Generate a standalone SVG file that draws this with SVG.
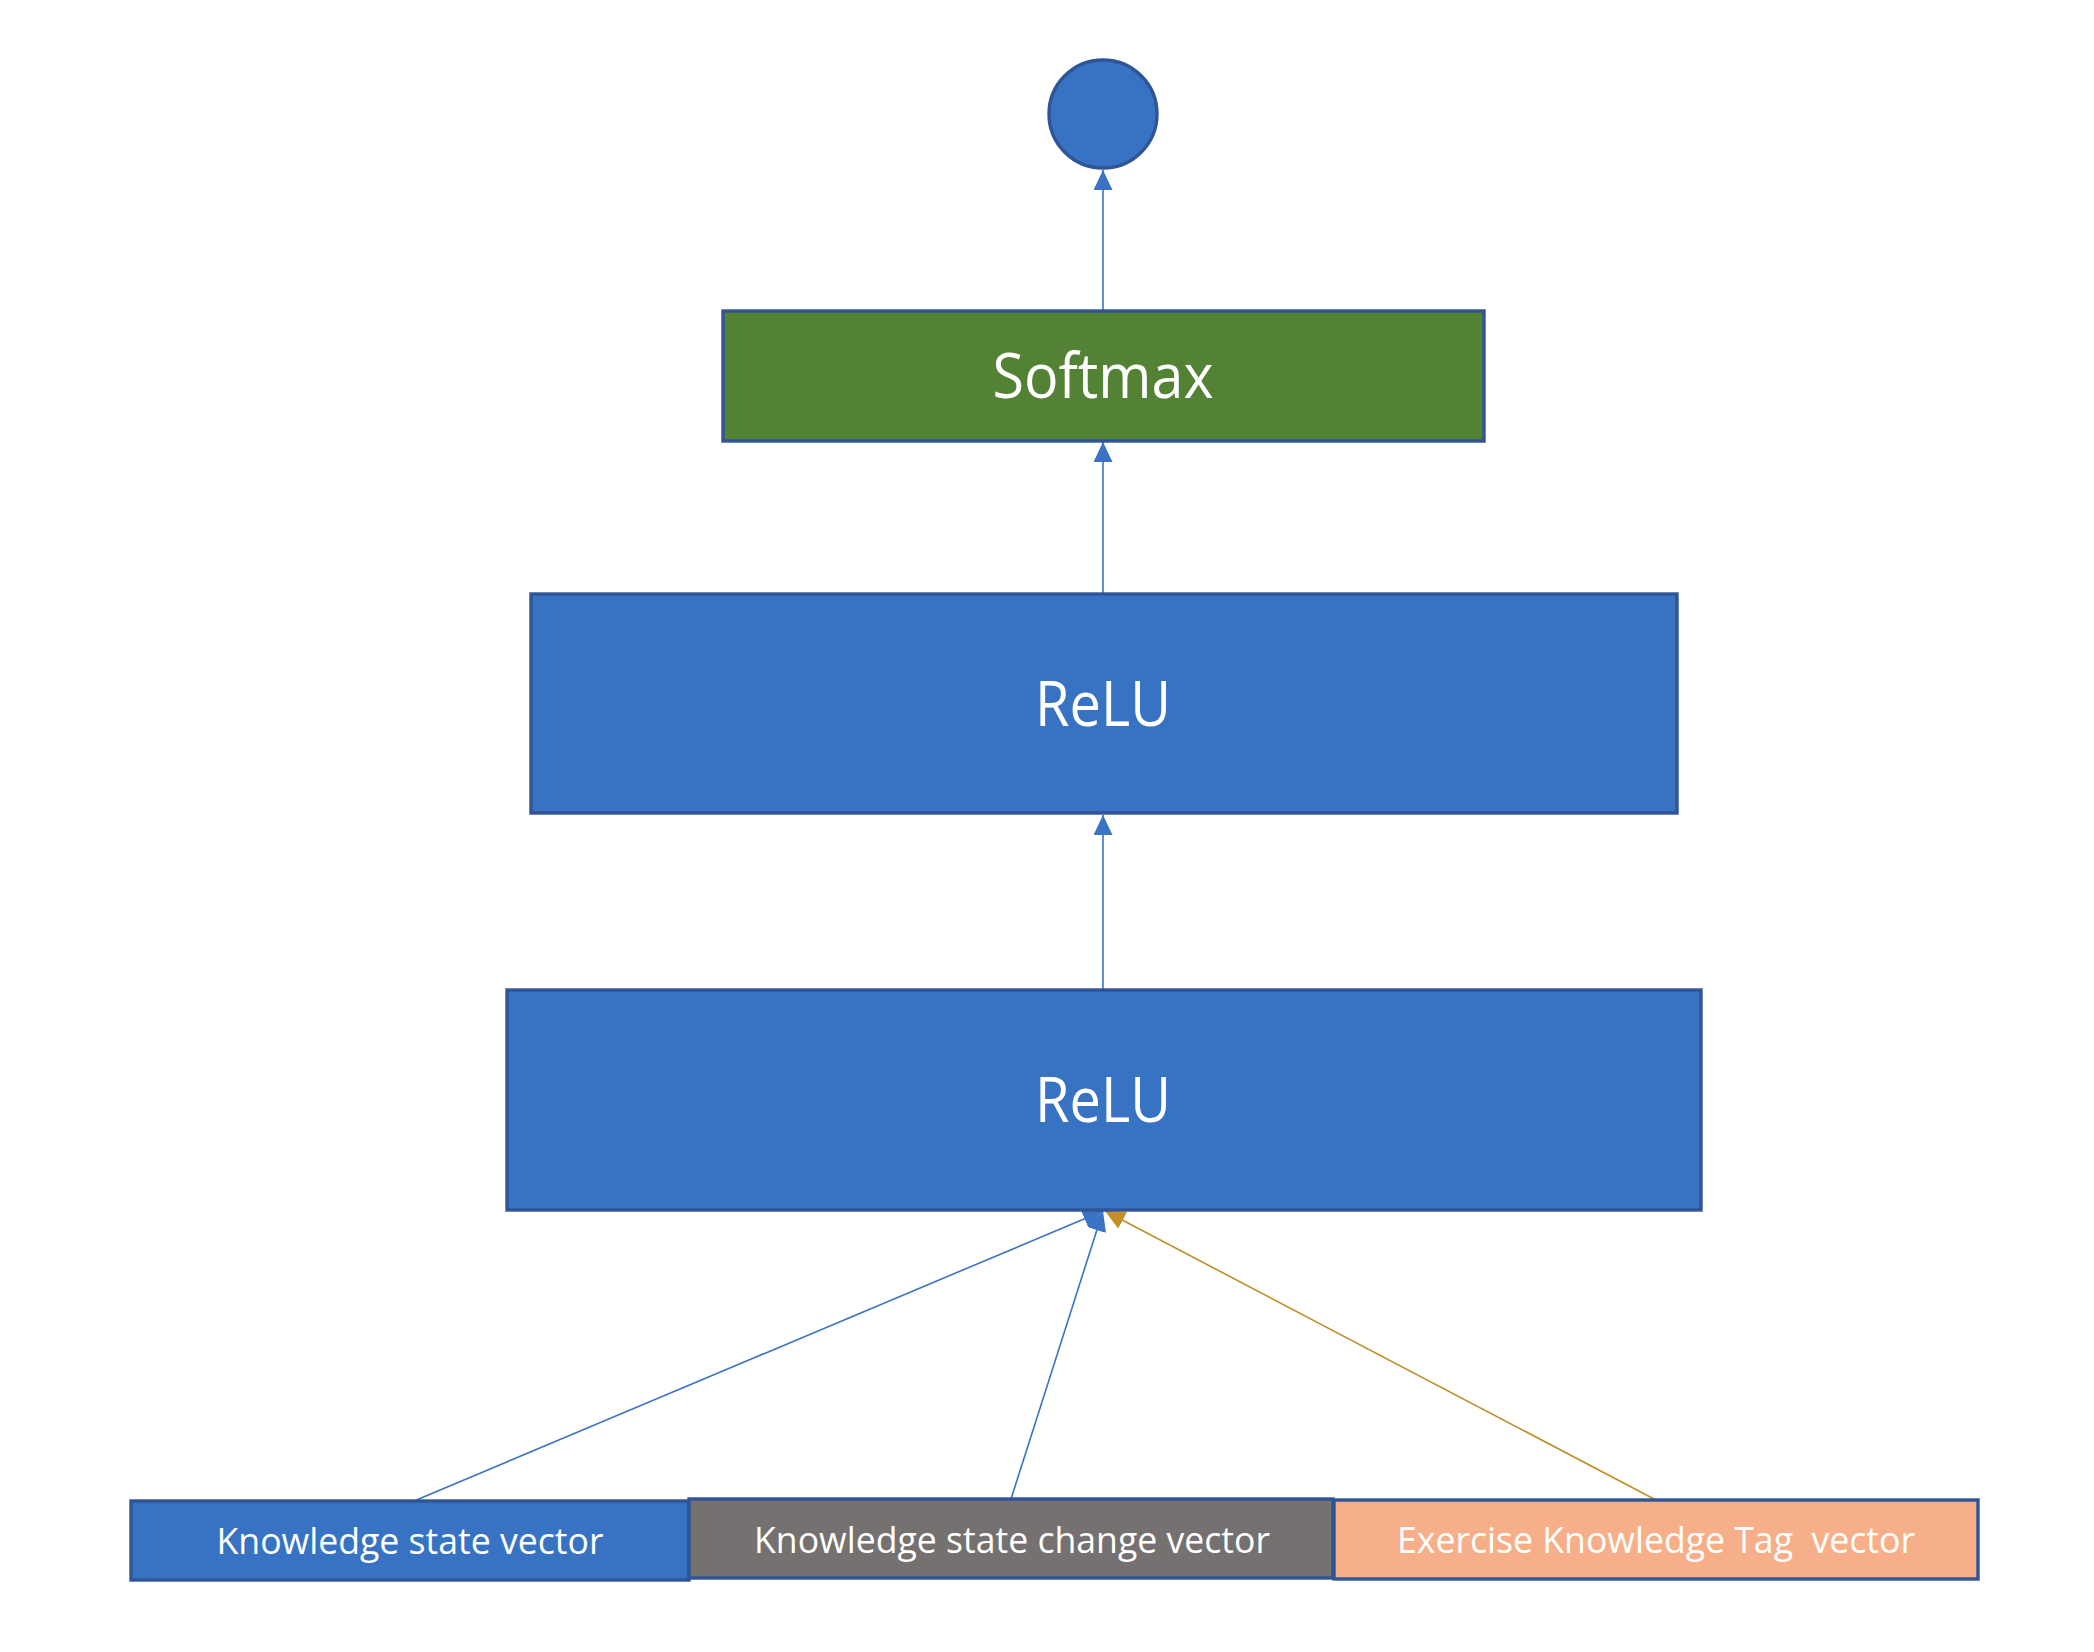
<svg xmlns="http://www.w3.org/2000/svg" width="2094" height="1652" viewBox="0 0 2094 1652">
<style>
.box{stroke:#2F5597;stroke-width:3.4}
.blue{fill:#3873C3}
.green{fill:#548235}
.gray{fill:#767171}
.orange{fill:#F6AF88}
.lbl{font-family:"Open Sans","Noto Sans","Liberation Sans",sans-serif;fill:#FFFFFF;text-anchor:middle}
.big{font-size:62px}
.small{font-size:37px}
.conn{fill:none;stroke-width:1.6}
.cb{stroke:#3A72C4}
.co{stroke:#C08E25}
</style>
<defs>
<marker id="ab" viewBox="0 0 20 19" refX="20" refY="9.5" markerWidth="20" markerHeight="19" markerUnits="userSpaceOnUse" orient="auto">
<path d="M0,0 L20,9.5 L0,19 Z" fill="#3A72C4"/>
</marker>
<marker id="ao" viewBox="0 0 20 19" refX="20" refY="9.5" markerWidth="20" markerHeight="19" markerUnits="userSpaceOnUse" orient="auto">
<path d="M0,0 L20,9.5 L0,19 Z" fill="#C58F26"/>
</marker>
</defs>
<rect width="2094" height="1652" fill="#FFFFFF"/>
<g id="connectors">
<line class="conn cb" x1="1103" y1="310" x2="1103" y2="170" marker-end="url(#ab)"/>
<line class="conn cb" x1="1103" y1="593" x2="1103" y2="442" marker-end="url(#ab)"/>
<line class="conn cb" x1="1103" y1="990" x2="1103" y2="815" marker-end="url(#ab)"/>
<line class="conn cb" x1="414" y1="1501" x2="1103" y2="1211" marker-end="url(#ab)"/>
<line class="conn cb" x1="1011" y1="1499" x2="1103" y2="1211" marker-end="url(#ab)"/>
<line class="conn co" x1="1656" y1="1500" x2="1105" y2="1211" marker-end="url(#ao)"/>
</g>
<g id="output">
<circle cx="1103" cy="114" r="54" class="box blue"/>
</g>
<g id="softmax">
<rect x="723" y="311" width="761" height="130" class="box green"/>
<text x="1103" y="398" class="lbl big" textLength="221" lengthAdjust="spacingAndGlyphs">Softmax</text>
</g>
<g id="relu1">
<rect x="531" y="594" width="1146" height="219" class="box blue"/>
<text x="1103" y="726" class="lbl big" textLength="136" lengthAdjust="spacingAndGlyphs">ReLU</text>
</g>
<g id="relu2">
<rect x="507" y="990" width="1194" height="220" class="box blue"/>
<text x="1103" y="1122" class="lbl big" textLength="136" lengthAdjust="spacingAndGlyphs">ReLU</text>
</g>
<g id="ksv">
<rect x="131" y="1501" width="558" height="79" class="box blue"/>
<text x="410" y="1554" class="lbl small" textLength="387" lengthAdjust="spacingAndGlyphs">Knowledge state vector</text>
</g>
<g id="kscv">
<rect x="689" y="1499" width="644" height="79" class="box gray"/>
<text x="1012" y="1553" class="lbl small" textLength="516" lengthAdjust="spacingAndGlyphs">Knowledge state change vector</text>
</g>
<g id="ektv">
<rect x="1334" y="1500" width="644" height="79" class="box orange"/>
<text x="1656" y="1553" class="lbl small" textLength="518" lengthAdjust="spacingAndGlyphs" xml:space="preserve">Exercise Knowledge Tag  vector</text>
</g>
</svg>
